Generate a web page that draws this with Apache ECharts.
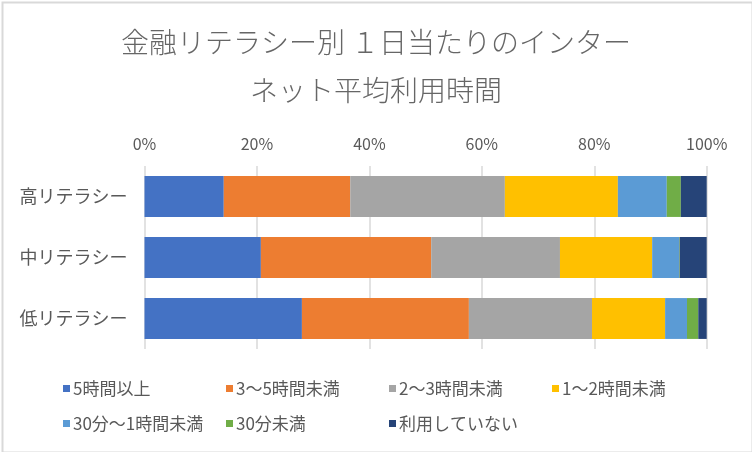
<!DOCTYPE html>
<html>
<head>
<meta charset="utf-8">
<script src="https://cdn.jsdelivr.net/npm/echarts@6/dist/echarts.min.js"></script>
<style>
html,body{margin:0;padding:0;background:#fff;}
#chart{width:752px;height:452px;}
</style>
</head>
<body>
<div id="chart"></div>
<script>
const categories = ['高リテラシー', '中リテラシー', '低リテラシー'];
const seriesNames = ['5時間以上', '3～5時間未満', '2～3時間未満', '1～2時間未満', '30分～1時間未満', '30分未満', '利用していない'];
const over5h = [14.1, 20.7, 28.0];
const h3to5 = [22.5, 30.3, 29.7];
const h2to3 = [27.5, 22.9, 21.9];
const h1to2 = [20.1, 16.4, 13.0];
const m30to1h = [8.7, 4.8, 3.9];
const under30m = [2.5, 0.1, 2.0];
const notUsing = [4.6, 4.8, 1.5];
const xTicks = [0, 20, 40, 60, 80, 100];

const colors = ['#4472C4', '#ED7D31', '#A5A5A5', '#FFC000', '#5B9BD5', '#70AD47', '#264478'];
const allData = [over5h, h3to5, h2to3, h1to2, m30to1h, under30m, notUsing];
const font = '"Noto Sans CJK JP", "Noto Sans", sans-serif';

const chart = echarts.init(document.getElementById('chart'), null, {renderer: 'canvas'});
chart.setOption({
  animation: false,
  backgroundColor: '#fff',
  color: colors,
  graphic: [{
    type: 'rect', left: 0, top: 0, silent: true,
    shape: {x: 1, y: 1, width: 750, height: 450},
    style: {fill: 'none', stroke: '#d9d9d9', lineWidth: 2}
  }],
  title: {
    text: '金融リテラシー別 １日当たりのインター\nネット平均利用時間',
    left: 'center',
    top: 13,
    textStyle: {fontFamily: font, fontSize: 28, fontWeight: 300, color: '#666666', lineHeight: 48}
  },
  legend: {
    data: seriesNames,
    left: 58,
    top: 366,
    width: 660,
    itemWidth: 7,
    itemHeight: 7,
    itemGap: 0,
    icon: 'rect',
    textStyle: {fontFamily: font, fontSize: 17, color: '#595959', width: 153, lineHeight: 35, padding: [0, 0, 0, -2]}
  },
  grid: {left: 144.5, right: 45.3, top: 166, bottom: 103, containLabel: false},
  xAxis: {
    type: 'value',
    position: 'top',
    min: 0, max: 100, interval: 20,
    axisLabel: {formatter: v => xTicks.includes(v) ? v + '%' : '', fontFamily: font, fontSize: 16, color: '#595959', margin: 14},
    axisLine: {show: false},
    axisTick: {show: false},
    splitLine: {show: true, lineStyle: {color: '#d9d9d9', width: 1.5}}
  },
  yAxis: {
    type: 'category',
    data: categories,
    inverse: true,
    axisLabel: {fontFamily: font, fontSize: 18, color: '#595959', margin: 17},
    axisLine: {show: false},
    axisTick: {show: false}
  },
  series: seriesNames.map((name, i) => ({
    name: name,
    type: 'bar',
    stack: 'total',
    barCategoryGap: '33%',
    data: allData[i],
    itemStyle: {color: colors[i]}
  }))
});
</script>
</body>
</html>
